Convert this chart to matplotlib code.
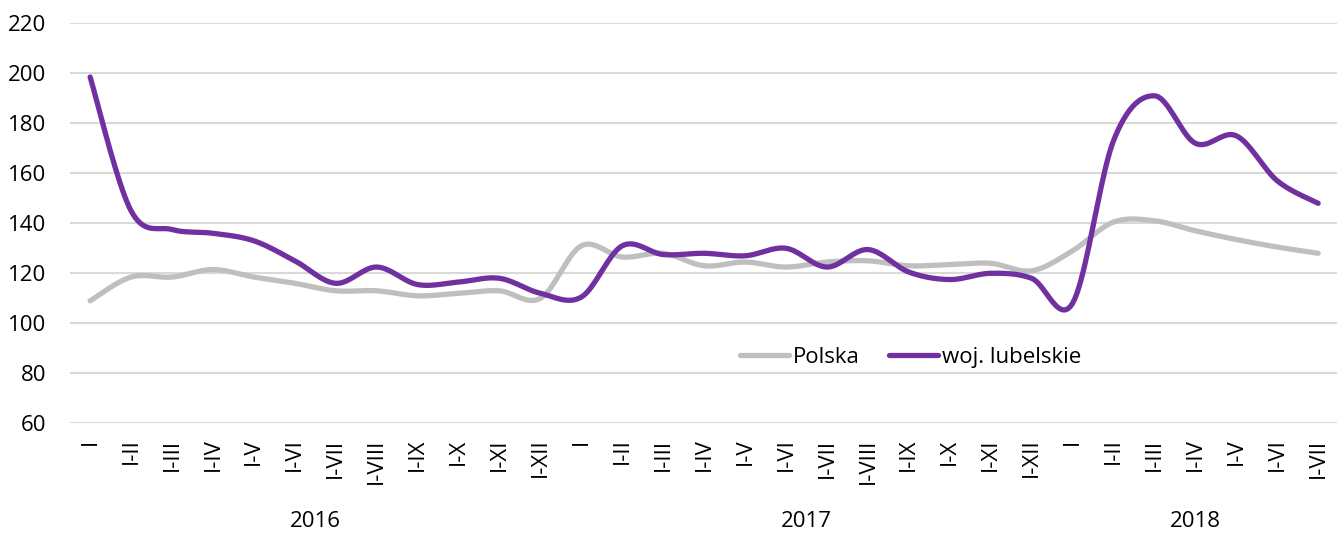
import numpy as np
import matplotlib
matplotlib.use("Agg")
import matplotlib.pyplot as plt
import matplotlib.transforms as mtransforms

plt.rcParams['font.family'] = ['Open Sans', 'DejaVu Sans']

months = ['I', 'I-II', 'I-III', 'I-IV', 'I-V', 'I-VI', 'I-VII', 'I-VIII',
          'I-IX', 'I-X', 'I-XI', 'I-XII']
years = ['2016', '2017', '2018']
year_len = [12, 12, 7]
labels = months + months + months[:7]

polska = [109, 118.5, 118.5, 121.5, 118.5, 116, 113, 113, 111, 112, 113, 110,
          131, 126.5, 128, 123, 124.5, 122.5, 124.5, 125, 123, 123.5, 124, 121,
          129, 140.5, 141, 137, 133.5, 130.5, 128]
lubelskie = [198.5, 145, 137.5, 136, 133, 125, 116, 122.5, 115.5, 116.5, 118, 112,
             110.5, 131, 127.5, 128, 127, 130, 122.5, 129.5, 120.5, 117.5, 120, 118,
             108, 173, 191, 172, 175, 157, 148]


def smooth(y, n=20):
    # catmull-rom curve through the points, like excel's smoothed line
    y = np.asarray(y, dtype=float)
    x = np.arange(len(y), dtype=float)
    px = np.concatenate([[x[0]], x, [x[-1]]])
    py = np.concatenate([[y[0]], y, [y[-1]]])
    xs, ys = [], []
    t = np.linspace(0, 1, n, endpoint=False)
    for i in range(1, len(px) - 2):
        for arr, out in ((px, xs), (py, ys)):
            p0, p1, p2, p3 = arr[i - 1], arr[i], arr[i + 1], arr[i + 2]
            c1 = p1 + (p2 - p0) / 6
            c2 = p2 - (p3 - p1) / 6
            out.extend((1 - t) ** 3 * p1 + 3 * (1 - t) ** 2 * t * c1
                       + 3 * (1 - t) * t ** 2 * c2 + t ** 3 * p2)
    xs.append(x[-1])
    ys.append(y[-1])
    return np.array(xs), np.array(ys)


fig = plt.figure(figsize=(13.37, 5.34), dpi=100)
ax = fig.add_axes([0.0524, 0.2073, 0.9476, 0.7491])

xs, ys = smooth(polska)
ax.plot(xs, ys, color='#BFBFBF', lw=3.8, solid_capstyle='round', label='Polska')
xs, ys = smooth(lubelskie)
ax.plot(xs, ys, color='#7030A0', lw=3.8, solid_capstyle='round', label='woj. lubelskie')

ax.set_ylim(60, 220)
ax.set_yticks(range(60, 221, 20))
ax.set_xlim(-0.49, 30.46)
ax.set_xticks(range(len(labels)))
ax.set_xticklabels(labels, rotation=90, fontsize=16, va='top')
ax.tick_params(axis='both', length=0, labelsize=16, colors='black')
ax.tick_params(axis='x', pad=11)
ax.tick_params(axis='y', pad=17)
ax.grid(axis='y', color='#D9D9D9', lw=1.5)
ax.set_axisbelow(True)
for s in ax.spines.values():
    s.set_visible(False)

trans = mtransforms.blended_transform_factory(ax.transData, fig.transFigure)
start = 0
for yr, n in zip(years, year_len):
    fig.text((start + start + n - 1) / 2, 0.0225, yr, transform=trans,
             ha='center', va='center', fontsize=16)
    start += n

ax.legend(loc='center left', bbox_to_anchor=(0.513, 0.165), ncol=2, frameon=False,
          fontsize=16, handlelength=2.2, handletextpad=0.2, columnspacing=1.3)

fig.savefig('out.png', dpi=100)
